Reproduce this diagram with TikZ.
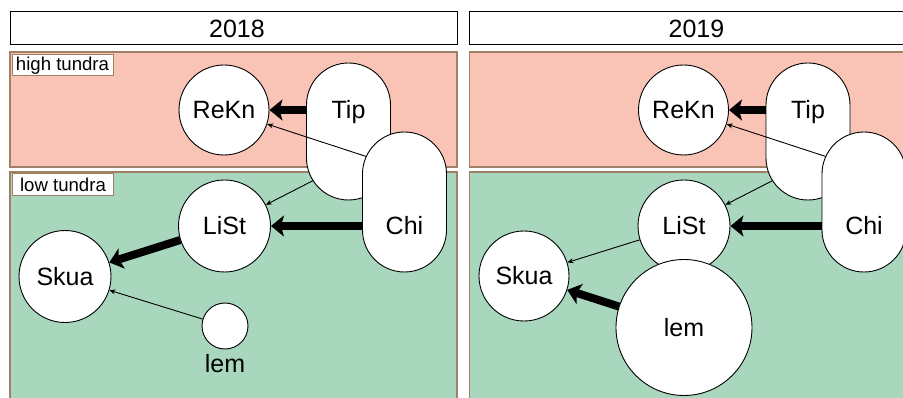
\documentclass[tikz,border=0pt]{standalone}
\usepackage{fontspec}
\setmainfont{Liberation Sans}
\usetikzlibrary{arrows.meta,calc}
\definecolor{hipink}{RGB}{249,196,182}
\definecolor{logreen}{RGB}{168,215,190}
\definecolor{zoneedge}{RGB}{160,128,100}
\begin{document}
\begin{tikzpicture}[x=1pt,y=1pt,
  zone/.style={draw=zoneedge, line width=1.2pt},
  titlebox/.style={draw=black, fill=white, line width=1pt, minimum width=447pt, minimum height=33pt, inner sep=0pt, font=\fontsize{25}{28}\selectfont},
  zonelabel/.style={draw=zoneedge, fill=white, line width=1pt, minimum width=101pt, minimum height=21pt, inner sep=0pt, font=\fontsize{18.6}{20}\selectfont},
  sp/.style={circle, draw=black, fill=white, line width=0.9pt, inner sep=0pt, font=\fontsize{25}{28}\selectfont},
  pill/.style={rectangle, rounded corners=42pt, draw=black, fill=white, line width=0.9pt, inner sep=0pt, minimum width=84pt, font=\fontsize{25}{28}\selectfont, anchor=base},
  strong/.style={-{Stealth[length=13pt,width=21pt,inset=3pt]}, line width=8pt},
  weak/.style={-{Stealth[length=6pt,width=5pt]}, line width=0.9pt},
]
\useasboundingbox (0,0) rectangle (903,-398);
\clip (0,0) rectangle (903,-398);
\fill[white] (0,0) rectangle (903,-398);

% ---------- 2018 panel ----------
\node[titlebox] (L-title) at (233.5,-28.5) {\hspace*{7pt}2018};
\filldraw[zone, fill=hipink] (10,-52) rectangle (457,-167);
\filldraw[zone, fill=logreen] (10,-172) rectangle (457,-430);
\node[zonelabel] (L-high) at (62.5,-65.5) {high tundra};
\node[zonelabel, minimum height=22pt] (L-low) at (63,-184.5) {low tundra};

\node[sp, minimum size=90pt] (L-ReKn) at (224,-110) {ReKn};
\node[sp, minimum size=92pt] (L-LiSt) at (224.5,-226) {LiSt};
\node[sp, minimum size=92pt] (L-Skua) at (65,-276.5) {Skua};
\node[sp, minimum size=46pt, label={[inner sep=0pt, label distance=5pt, font=\fontsize{25}{28}\selectfont]below:lem}] (L-lem) at (225,-326) {};
\node[pill, text height=56pt, text depth=81pt] (L-Tip) at (348.5,-119) {Tip};
\node[pill, text height=103pt, text depth=37pt] (L-Chi) at (404.5,-235) {Chi};

\draw[strong] (L-Tip.west |- L-ReKn) -- (L-ReKn.east);
\draw[strong] (L-Chi.west |- L-LiSt) -- (L-LiSt.east);
\draw[strong] (L-LiSt) -- (L-Skua);
\draw[weak] (L-lem) -- (L-Skua);
\draw[weak] ($(L-Chi.north)+(0,-42)+(156:42)$) -- (L-ReKn);
\draw[weak] ($(L-Tip.south)+(0,42)+(212:42)$) -- (L-LiSt);

% ---------- 2019 panel ----------
\node[titlebox] (R-title) at (693,-28.5) {\hspace*{7pt}2019};
\filldraw[zone, fill=hipink] (469.5,-52) rectangle (916.5,-167);
\filldraw[zone, fill=logreen] (469.5,-172) rectangle (916.5,-430);

\node[sp, minimum size=90pt] (R-ReKn) at (683.5,-110) {ReKn};
\node[sp, minimum size=92pt] (R-LiSt) at (684,-226) {LiSt};
\node[sp, minimum size=90pt] (R-Skua) at (524,-276) {Skua};
\node[sp, minimum size=136pt] (R-lem) at (684,-327.5) {lem};
\node[pill, text height=56pt, text depth=81pt] (R-Tip) at (808,-119) {Tip};
\node[pill, text height=103pt, text depth=37pt] (R-Chi) at (864,-235) {Chi};

\draw[strong] (R-Tip.west |- R-ReKn) -- (R-ReKn.east);
\draw[strong] (R-Chi.west |- R-LiSt) -- (R-LiSt.east);
\draw[weak] (R-LiSt) -- (R-Skua);
\draw[strong] (R-lem) -- (R-Skua);
\draw[weak] ($(R-Chi.north)+(0,-42)+(156:42)$) -- (R-ReKn);
\draw[weak] ($(R-Tip.south)+(0,42)+(212:42)$) -- (R-LiSt);
\end{tikzpicture}
\end{document}
